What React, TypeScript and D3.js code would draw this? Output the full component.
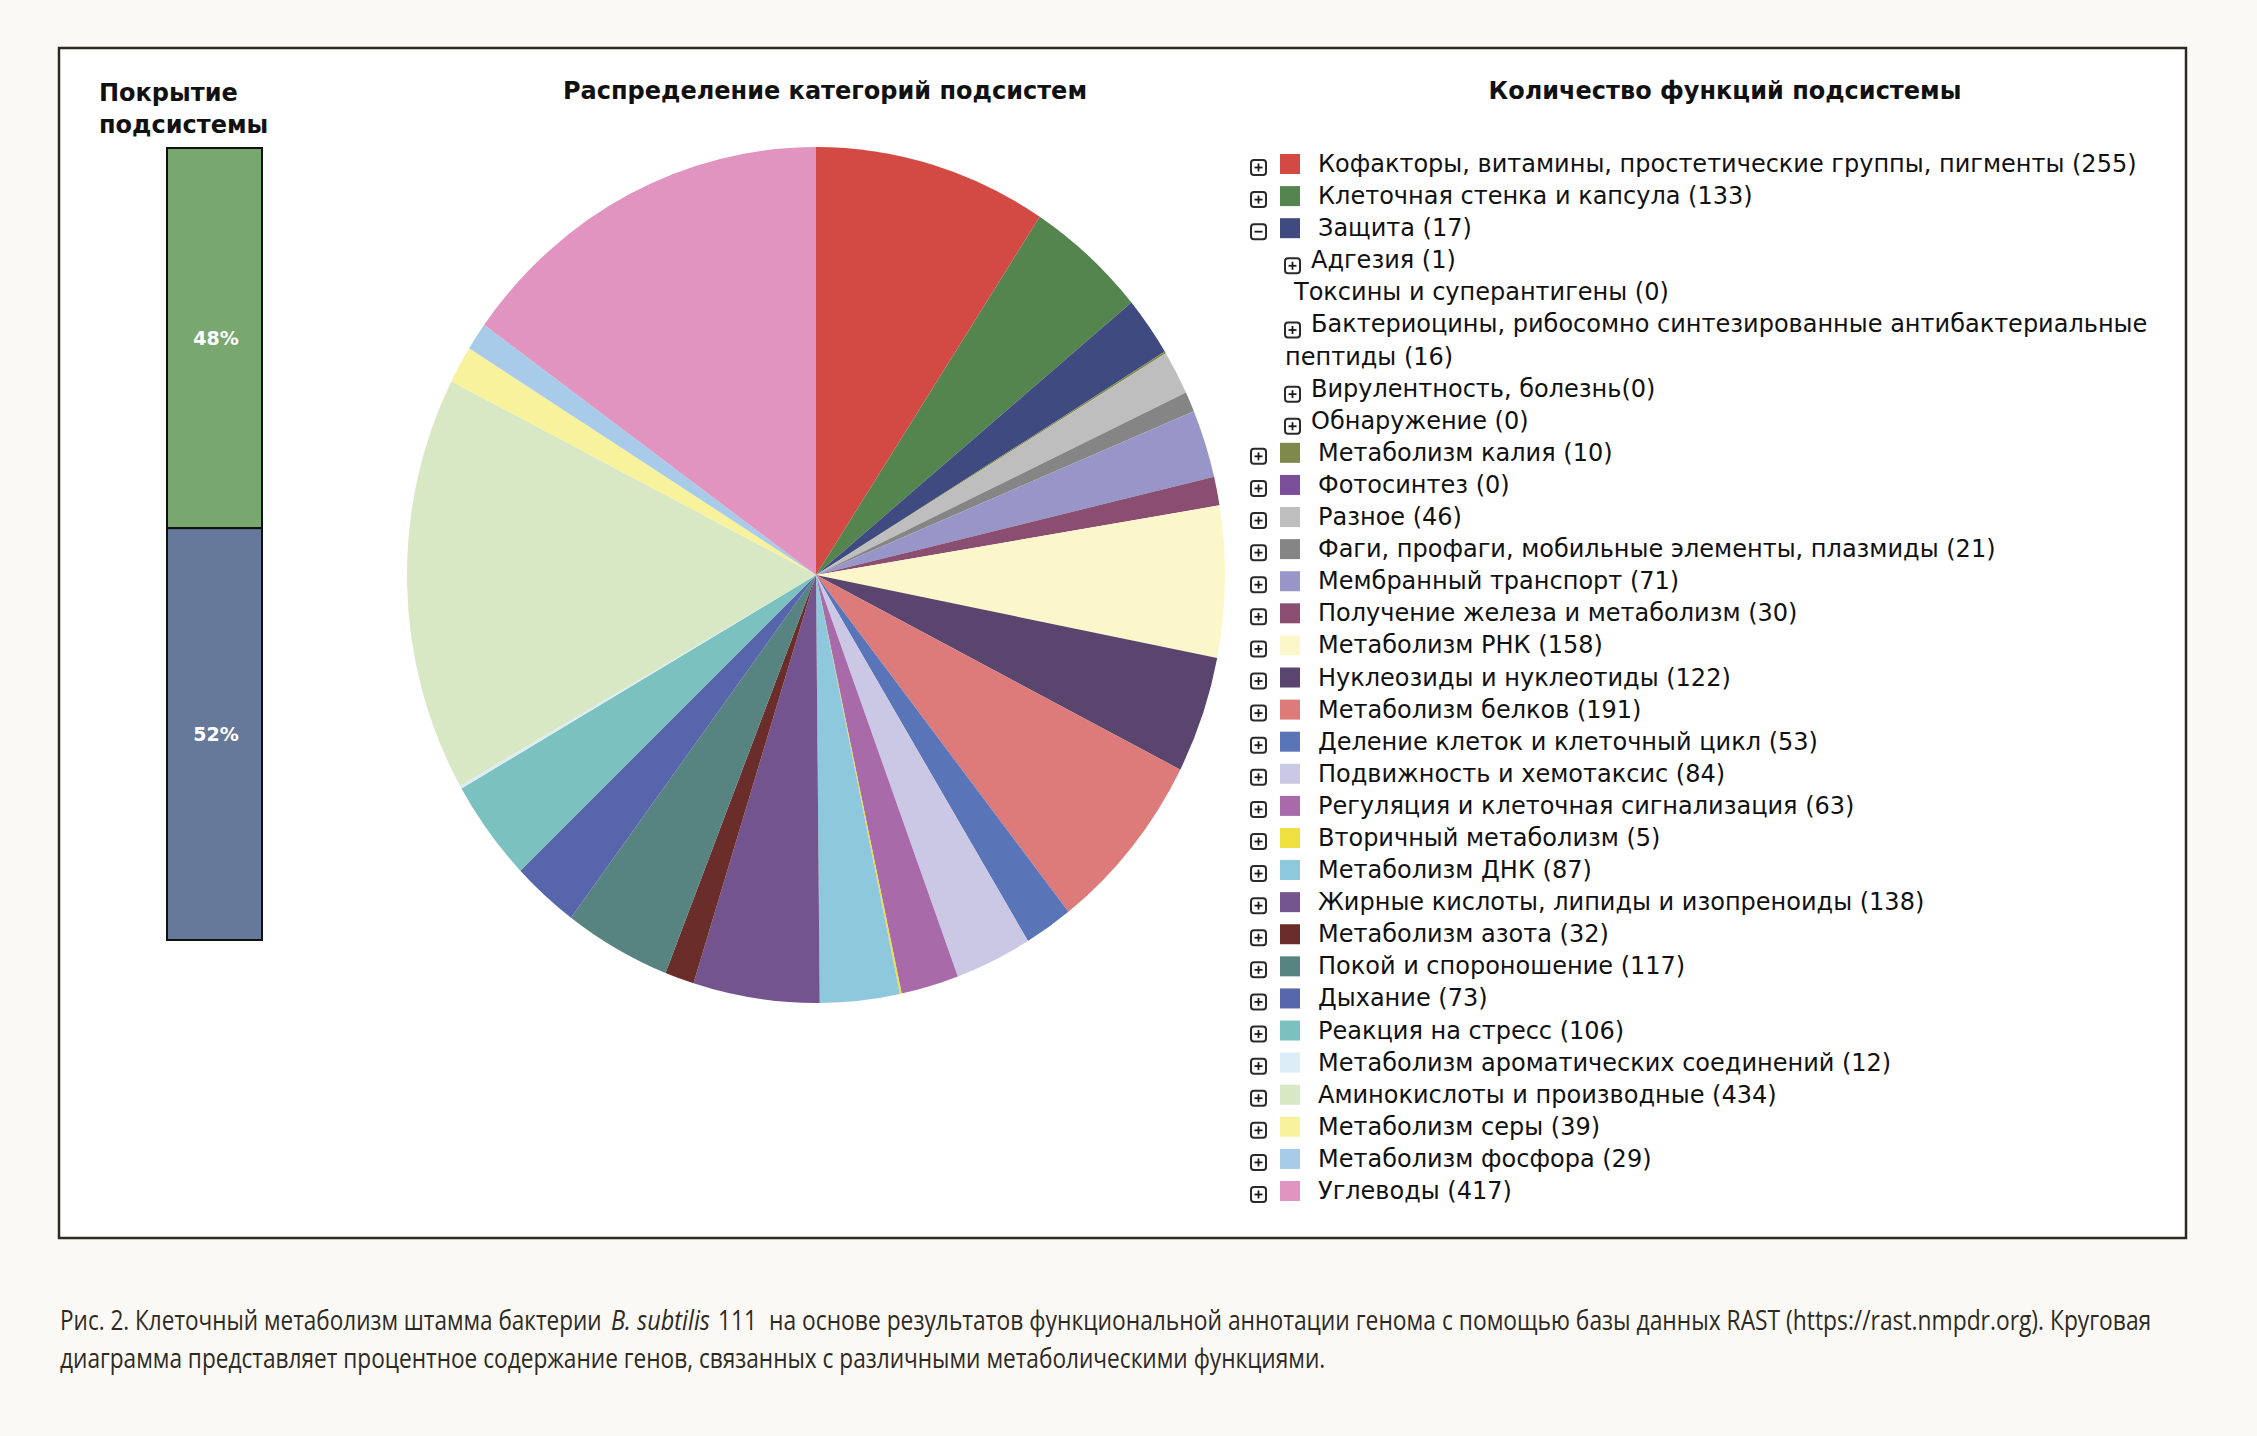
import React, { useLayoutEffect, useRef, useState } from 'react';
import * as d3 from 'd3';

// ---------- data ----------
const categories = [
  'Кофакторы, витамины, простетические группы, пигменты',
  'Клеточная стенка и капсула',
  'Защита',
  'Метаболизм калия',
  'Фотосинтез',
  'Разное',
  'Фаги, профаги, мобильные элементы, плазмиды',
  'Мембранный транспорт',
  'Получение железа и метаболизм',
  'Метаболизм РНК',
  'Нуклеозиды и нуклеотиды',
  'Метаболизм белков',
  'Деление клеток и клеточный цикл',
  'Подвижность и хемотаксис',
  'Регуляция и клеточная сигнализация',
  'Вторичный метаболизм',
  'Метаболизм ДНК',
  'Жирные кислоты, липиды и изопреноиды',
  'Метаболизм азота',
  'Покой и спороношение',
  'Дыхание',
  'Реакция на стресс',
  'Метаболизм ароматических соединений',
  'Аминокислоты и производные',
  'Метаболизм серы',
  'Метаболизм фосфора',
  'Углеводы',
];
const featureCounts = [255, 133, 17, 10, 0, 46, 21, 71, 30, 158, 122, 191, 53, 84, 63, 5, 87, 138, 32, 117, 73, 106, 12, 434, 39, 29, 417];
// slice sizes
const pieShares = [255, 133, 62, 2, 0, 46, 21, 71, 30, 158, 122, 191, 53, 84, 63, 2, 87, 138, 32, 117, 73, 106, 3, 434, 39, 29, 417];
const palette = [
  '#d24a43', '#55854f', '#3f4a80', '#7f8a4a', '#7b4f9a', '#bebebe', '#858585', '#9896c9', '#8a4e71',
  '#fcf7cb', '#5a456e', '#dd7b7b', '#5a74b8', '#cbc8e5', '#a86aa8', '#efe040', '#8ec8dc', '#73548f',
  '#6b2d2a', '#578380', '#5766ab', '#7bc1bf', '#dcedf7', '#d8e7c4', '#f8f29c', '#a8cbea', '#e094bf',
];
const defenseSubsystems = ['Адгезия', 'Токсины и суперантигены', 'Бактериоцины, рибосомно синтезированные антибактериальные', 'Вирулентность, болезнь', 'Обнаружение'];
const defenseSubWrap = ['', '', 'пептиды', '', ''];
const defenseCounts = [1, 0, 16, 0, 0];
const defenseExpandable = [true, false, true, true, true];
const coverageValues = [48, 52];
const coverageLabels = ['48%', '52%'];

const titleCoverage = ['Покрытие', 'подсистемы'];
const titlePie = 'Распределение категорий подсистем';
const titleLegend = 'Количество функций подсистемы';
const captionLine1a = 'Рис. 2. Клеточный метаболизм штамма бактерии';
const captionSpecies = 'B. subtilis';
const captionLine1b = '111  на основе результатов функциональной аннотации генома с помощью базы данных RAST (https://rast.nmpdr.org). Круговая';
const captionLine2 = 'диаграмма представляет процентное содержание генов, связанных с различными метаболическими функциями.';

const SANS = '"DejaVu Sans", Verdana, sans-serif';

function Expander({ x, y, minus = false }: { x: number; y: number; minus?: boolean }) {
  const s = 15;
  return (
    <g>
      <rect x={x} y={y} width={s} height={s} rx={3} fill="#fff" stroke="#2a2a2a" strokeWidth={2} />
      <line x1={x + 3.5} x2={x + s - 3.5} y1={y + s / 2} y2={y + s / 2} stroke="#1a1a1a" strokeWidth={1.8} />
      {!minus && <line x1={x + s / 2} x2={x + s / 2} y1={y + 3.5} y2={y + s - 3.5} stroke="#1a1a1a" strokeWidth={1.8} />}
    </g>
  );
}

// condensed caption piece: natural text squeezed horizontally to a target width
function Squeezed({ x, y, width, italic = false, children }: { x: number; y: number; width: number; italic?: boolean; children: string }) {
  const ref = useRef<SVGTextElement | null>(null);
  const [k, setK] = useState(0.74);
  useLayoutEffect(() => {
    if (ref.current) {
      const natural = ref.current.getComputedTextLength();
      if (natural > 0) setK(width / natural);
    }
  }, [width, children]);
  return (
    <g transform={`translate(${x},${y}) scale(${k},1)`}>
      <text ref={ref} x={0} y={0} fontStyle={italic ? 'italic' : undefined} style={{ whiteSpace: 'pre' }}>
        {children}
      </text>
    </g>
  );
}

export default function App() {
  const W = 2257;
  const H = 1436;

  // pie (slightly elliptical as in the reference)
  const cx = 816, cy = 575, ry = 428, rx = 409;
  const arcs = d3.pie<number>().sort(null).value((d) => d)(pieShares);
  const arcGen = d3.arc<d3.PieArcDatum<number>>().innerRadius(0).outerRadius(ry);

  // coverage bar
  const barY = d3.scaleLinear().domain([0, 100]).range([148, 940]);
  const coverageColors = ['#78a870', '#66799b'];
  let acc = 0;
  const barSegs = coverageValues.map((v, i) => {
    const y0 = barY(acc);
    acc += v;
    const y1 = barY(acc);
    return { y0, y1, label: coverageLabels[i], color: coverageColors[i] };
  });

  // legend rows
  type Row = { kind: 'main' | 'sub' | 'plain' | 'wrap'; text: string; color?: string; minus?: boolean };
  const rows: Row[] = [];
  categories.forEach((c, i) => {
    rows.push({ kind: 'main', text: `${c} (${featureCounts[i]})`, color: palette[i], minus: i === 2 });
    if (i === 2) {
      defenseSubsystems.forEach((s, j) => {
        const count = `(${defenseCounts[j]})`;
        if (defenseSubWrap[j]) {
          rows.push({ kind: 'sub', text: s });
          rows.push({ kind: 'wrap', text: `${defenseSubWrap[j]} ${count}` });
        } else {
          const sep = j === 3 ? '' : ' ';
          rows.push({ kind: defenseExpandable[j] ? 'sub' : 'plain', text: `${s}${sep}${count}` });
        }
      });
    }
  });
  const rowY = d3.scaleLinear().domain([0, rows.length - 1]).range([172, 1199]);

  return (
    <svg
      width={W}
      height={H}
      viewBox={`0 0 ${W} ${H}`}
      style={{ position: 'absolute', left: 0, top: 0, display: 'block' }}
    >
      <rect x={0} y={0} width={W} height={H} fill="#faf9f6" />
      <rect x={59} y={48} width={2127} height={1190} fill="#ffffff" stroke="#2d2a20" strokeWidth={2.5} />

      {/* coverage */}
      <g fontFamily={SANS} fontWeight="bold" fontSize={24} fill="#111">
        <text x={99} y={101}>{titleCoverage[0]}</text>
        <text x={99} y={133}>{titleCoverage[1]}</text>
      </g>
      {barSegs.map((s, i) => (
        <g key={i}>
          <rect x={167} y={s.y0} width={95} height={s.y1 - s.y0} fill={s.color} stroke="#111" strokeWidth={2} />
          <text
            x={216}
            y={(s.y0 + s.y1) / 2 + 7}
            textAnchor="middle"
            fill="#ffffff"
            fontFamily={SANS}
            fontWeight="bold"
            fontSize={19}
          >
            {s.label}
          </text>
        </g>
      ))}

      {/* pie */}
      <text x={825} y={99} textAnchor="middle" fontFamily={SANS} fontWeight="bold" fontSize={24} fill="#111">
        {titlePie}
      </text>
      <g transform={`translate(${cx},${cy}) scale(${rx / ry},1)`}>
        {arcs.map((a, i) => (
          <path key={i} d={arcGen(a) || ''} fill={palette[i]} />
        ))}
      </g>

      {/* legend */}
      <text x={1725} y={99} textAnchor="middle" fontFamily={SANS} fontWeight="bold" fontSize={24} fill="#111">
        {titleLegend}
      </text>
      <g fontFamily={SANS} fontSize={24} fill="#111">
        {rows.map((r, i) => {
          const y = rowY(i);
          if (r.kind === 'main') {
            return (
              <g key={i}>
                <Expander x={1251} y={y - 12} minus={r.minus} />
                <rect x={1280} y={y - 18} width={20} height={20} fill={r.color} />
                <text x={1318} y={y}>{r.text}</text>
              </g>
            );
          }
          if (r.kind === 'sub') {
            return (
              <g key={i}>
                <Expander x={1285} y={y - 10} />
                <text x={1311} y={y}>{r.text}</text>
              </g>
            );
          }
          if (r.kind === 'plain') {
            return <text key={i} x={1294} y={y}>{r.text}</text>;
          }
          return <text key={i} x={1285} y={y}>{r.text}</text>;
        })}
      </g>

      {/* caption */}
      <g fontFamily='"Open Sans", sans-serif' fontSize={27} fill="#2e2a22">
        <Squeezed x={60} y={1330} width={542}>{captionLine1a}</Squeezed>
        <Squeezed x={611} y={1330} width={99} italic>{captionSpecies}</Squeezed>
        <Squeezed x={718} y={1330} width={1434}>{captionLine1b}</Squeezed>
        <Squeezed x={60} y={1368} width={1266}>{captionLine2}</Squeezed>
      </g>
    </svg>
  );
}
